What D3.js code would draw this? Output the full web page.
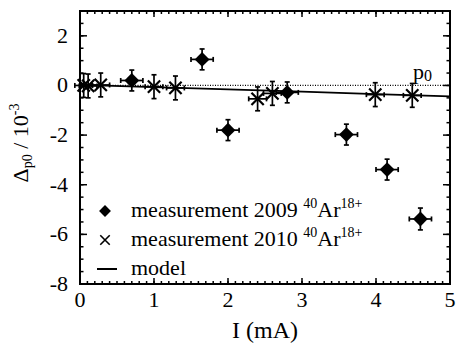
<!DOCTYPE html>
<html>
<head>
<meta charset="utf-8">
<script src="https://cdn.jsdelivr.net/npm/d3@7"></script>
<style>
  body { margin: 0; background: #fff; }
</style>
</head>
<body>
<svg id="chart" width="456" height="345"></svg>
<script>
// data
var m2009_I   = [0.7, 1.65, 2.0, 2.8, 3.6, 4.15, 4.6];
var m2009_d   = [0.2, 1.05, -1.8, -0.28, -1.98, -3.39, -5.38];
var m2009_eI  = [0.15, 0.15, 0.15, 0.15, 0.15, 0.15, 0.15];
var m2009_ed  = [0.42, 0.42, 0.42, 0.42, 0.42, 0.42, 0.44];

var m2010_I   = [0.05, 0.11, 0.28, 1.0, 1.29, 2.4, 2.6, 3.99, 4.49];
var m2010_d   = [0.0, -0.02, 0.02, -0.05, -0.1, -0.54, -0.32, -0.37, -0.4];
var m2010_eI  = [0.12, 0.12, 0.12, 0.12, 0.12, 0.12, 0.12, 0.12, 0.12];
var m2010_ed  = [0.48, 0.48, 0.48, 0.48, 0.48, 0.48, 0.48, 0.48, 0.48];

var model_I = [0, 1, 2, 3, 4, 5];
var model_d = [0.02, -0.07, -0.16, -0.25, -0.35, -0.44];

var xTicks = [0, 1, 2, 3, 4, 5];
var yTicks = [-8, -6, -4, -2, 0, 2];

var FONT = "'Liberation Serif'";
var svg = d3.select("#chart");
var pL = 80, pR = 450, pT = 11, pB = 284;

var x = d3.scaleLinear().domain([0, 5]).range([pL, pR]);
var y = d3.scaleLinear().domain([-8, 3]).range([pB, pT]);

var pts2009 = m2009_I.map(function (v, i) {
    return {I: v, d: m2009_d[i], eI: m2009_eI[i], ed: m2009_ed[i]};
});
var pts2010 = m2010_I.map(function (v, i) {
    return {I: v, d: m2010_d[i], eI: m2010_eI[i], ed: m2010_ed[i]};
});

function txt(sel, size) {
    return sel.append("text").style("font-family", FONT).attr("font-size", size);
}

// ticks (inward on all 4 sides)
var g = svg.append("g");
function tickLines(vals, len, horiz) {
    vals.forEach(function (v) {
        if (horiz) {
            g.append("line").attr("x1", x(v)).attr("x2", x(v)).attr("y1", pB).attr("y2", pB - len);
            g.append("line").attr("x1", x(v)).attr("x2", x(v)).attr("y1", pT).attr("y2", pT + len);
        } else {
            g.append("line").attr("y1", y(v)).attr("y2", y(v)).attr("x1", pL).attr("x2", pL + len);
            g.append("line").attr("y1", y(v)).attr("y2", y(v)).attr("x1", pR).attr("x2", pR - len);
        }
    });
}
tickLines(d3.range(0, 51).map(function (k) { return k / 10; }), 3, true);
tickLines(xTicks, 6, true);
tickLines(d3.range(-16, 7).map(function (k) { return k / 2; }), 3.5, false);
tickLines(yTicks, 7, false);
g.selectAll("line").attr("stroke", "#000").attr("stroke-width", 1.5);

// frame
svg.append("rect").attr("x", pL).attr("y", pT)
    .attr("width", pR - pL).attr("height", pB - pT)
    .attr("fill", "none").attr("stroke", "#000").attr("stroke-width", 2);

// tick labels
xTicks.forEach(function (d) {
    txt(svg, 22).attr("x", x(d)).attr("y", 307).attr("text-anchor", "middle").text(d);
});
yTicks.forEach(function (d) {
    txt(svg, 22).attr("x", 68).attr("y", y(d) + 7).attr("text-anchor", "end").text(d);
});

// p0 reference (dotted) and label
svg.append("line").attr("x1", x(0)).attr("x2", x(5)).attr("y1", y(0)).attr("y2", y(0))
    .attr("stroke", "#000").attr("stroke-width", 1.2).attr("stroke-dasharray", "1,1.5");
var p0 = txt(svg, 22).attr("x", 413).attr("y", 79);
p0.append("tspan").text("p");
p0.append("tspan").attr("font-size", 16).attr("dy", 2).text("0");

// model line
var line = d3.line().x(function (d, i) { return x(model_I[i]); }).y(function (d) { return y(d); });
svg.append("path").datum(model_d).attr("d", line)
    .attr("fill", "none").attr("stroke", "#000").attr("stroke-width", 1.8);

// error bars
function errBars(data, cap) {
    var eg = svg.append("g").attr("stroke", "#000").attr("stroke-width", 1.7);
    data.forEach(function (p) {
        var cx = x(p.I), cy = y(p.d);
        var x0 = x(p.I - p.eI), x1 = x(p.I + p.eI);
        var y0 = y(p.d - p.ed), y1 = y(p.d + p.ed);
        eg.append("line").attr("x1", x0).attr("x2", x1).attr("y1", cy).attr("y2", cy);
        eg.append("line").attr("x1", cx).attr("x2", cx).attr("y1", y0).attr("y2", y1);
        eg.append("line").attr("x1", x0).attr("x2", x0).attr("y1", cy - cap).attr("y2", cy + cap);
        eg.append("line").attr("x1", x1).attr("x2", x1).attr("y1", cy - cap).attr("y2", cy + cap);
        eg.append("line").attr("x1", cx - cap).attr("x2", cx + cap).attr("y1", y0).attr("y2", y0);
        eg.append("line").attr("x1", cx - cap).attr("x2", cx + cap).attr("y1", y1).attr("y2", y1);
    });
}
errBars(pts2010, 2.5);
errBars(pts2009, 2.5);

var diamond = d3.symbol().type(d3.symbolDiamond2).size(140);
var cross = d3.symbol().type(d3.symbolTimes).size(100);

svg.selectAll(".p10").data(pts2010).enter().append("path")
    .attr("transform", function (d) { return "translate(" + x(d.I) + "," + y(d.d) + ")"; })
    .attr("d", cross).attr("fill", "none").attr("stroke", "#000").attr("stroke-width", 2.2);

svg.selectAll(".p09").data(pts2009).enter().append("path")
    .attr("transform", function (d) { return "translate(" + x(d.I) + "," + y(d.d) + ")"; })
    .attr("d", diamond).attr("fill", "#000");

// legend
var legY = [211, 240, 269];
svg.append("path").attr("transform", "translate(105," + legY[0] + ")")
    .attr("d", d3.symbol().type(d3.symbolDiamond2).size(90)).attr("fill", "#000");
svg.append("path").attr("transform", "translate(105," + legY[1] + ")")
    .attr("d", d3.symbol().type(d3.symbolTimes).size(60)).attr("fill", "none")
    .attr("stroke", "#000").attr("stroke-width", 1.6);
svg.append("line").attr("x1", 97).attr("x2", 117).attr("y1", legY[2]).attr("y2", legY[2])
    .attr("stroke", "#000").attr("stroke-width", 2);

["measurement 2009 ", "measurement 2010 "].forEach(function (s, i) {
    var t = txt(svg, 22).attr("x", 131).attr("y", legY[i] + 6);
    t.append("tspan").text(s);
    t.append("tspan").attr("font-size", 14).attr("dy", -9).text("40");
    t.append("tspan").attr("dy", 9).text("Ar");
    t.append("tspan").attr("font-size", 14).attr("dy", -9).text("18+");
});
txt(svg, 22).attr("x", 131).attr("y", legY[2] + 6).text("model");

// axis titles
txt(svg, 24).attr("x", 265).attr("y", 338).attr("text-anchor", "middle").text("I (mA)");
var yt = txt(svg, 22).attr("transform", "translate(28,143) rotate(-90)")
    .attr("text-anchor", "middle");
yt.append("tspan").text("\u0394");
yt.append("tspan").attr("font-size", 14).attr("dy", 4).text("p0");
yt.append("tspan").attr("dy", -4).text(" / 10");
yt.append("tspan").attr("font-size", 14).attr("dy", -9).text("-3");
</script>
</body>
</html>
